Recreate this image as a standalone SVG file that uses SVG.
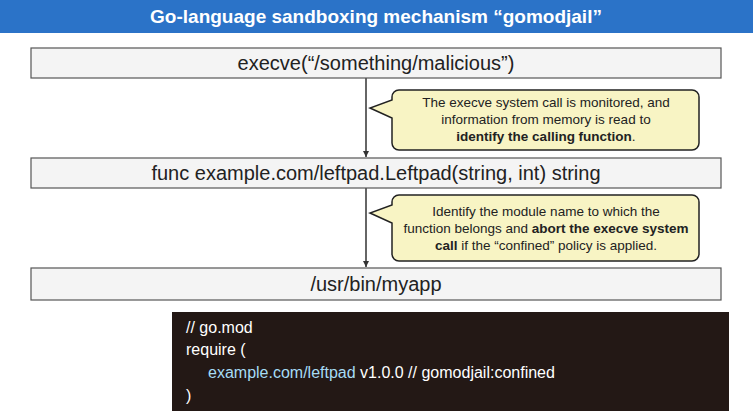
<svg xmlns="http://www.w3.org/2000/svg" width="753" height="411" viewBox="0 0 753 411">
<style>
.box{fill:#f4f4f4;stroke:#555;stroke-width:1.2}
.bt{font-family:"Liberation Sans",Arial,sans-serif;font-size:20px;fill:#222;text-anchor:middle}
.co{fill:#f8f4c4;stroke:#222;stroke-width:1.5}
.ct{font-family:"Liberation Sans",Arial,sans-serif;font-size:13.5px;fill:#222;text-anchor:middle}
.code{font-family:"Liberation Sans",Arial,sans-serif;font-size:16px;fill:#fff}
</style>
<defs><marker id="ah" markerWidth="8" markerHeight="8" refX="6" refY="3" orient="auto" markerUnits="userSpaceOnUse"><path d="M0,0L6,3L0,6z" fill="#333"/></marker></defs>
<rect width="753" height="411" fill="#fff"/>
<g id="title"><rect x="0" y="0" width="753" height="33" fill="#2b73c8"/>
<text x="376" y="23" font-family="'Liberation Sans',Arial,sans-serif" font-size="19" font-weight="bold" fill="#fff" text-anchor="middle">Go-language sandboxing mechanism “gomodjail”</text></g>
<g id="connectors" stroke="#333" stroke-width="1.5">
<line x1="366" y1="78" x2="366" y2="157" marker-end="url(#ah)"/>
<line x1="366" y1="188" x2="366" y2="267" marker-end="url(#ah)"/>
</g>
<g id="n1"><rect class="box" x="31" y="48" width="690" height="30"/><text class="bt" x="376" y="70">execve(“/something/malicious”)</text></g>
<g id="n2"><rect class="box" x="31" y="158" width="690" height="30"/><text class="bt" x="376" y="180">func example.com/leftpad.Leftpad(string, int) string</text></g>
<g id="n3"><rect class="box" x="31" y="268" width="690" height="32"/><text class="bt" x="376" y="291">/usr/bin/myapp</text></g>
<g id="c1"><path class="co" d="M399,90H692a7,7 0 0 1 7,7V143a7,7 0 0 1 -7,7H399a7,7 0 0 1 -7,-7V118L370,108L392,100V97a7,7 0 0 1 7,-7z"/>
<text class="ct" x="546" y="107">The execve system call is monitored, and</text>
<text class="ct" x="546" y="124">information from memory is read to</text>
<text class="ct" x="546" y="141"><tspan font-weight="bold">identify the calling function</tspan>.</text></g>
<g id="c2"><path class="co" d="M399,195H692a7,7 0 0 1 7,7V254a7,7 0 0 1 -7,7H399a7,7 0 0 1 -7,-7V223L370,213L392,205V202a7,7 0 0 1 7,-7z"/>
<text class="ct" x="546" y="216">Identify the module name to which the</text>
<text class="ct" x="546" y="233">function belongs and <tspan font-weight="bold">abort the execve system</tspan></text>
<text class="ct" x="546" y="250"><tspan font-weight="bold">call</tspan> if the “confined” policy is applied.</text></g>
<g id="code"><rect x="172" y="312" width="557" height="99" fill="#231815"/>
<text class="code" x="186" y="333">// go.mod</text>
<text class="code" x="186" y="355">require (</text>
<text class="code" x="208" y="378"><tspan fill="#a6dcf5">example.com/leftpad</tspan> v1.0.0 // gomodjail:confined</text>
<text class="code" x="186" y="401">)</text></g>
</svg>
